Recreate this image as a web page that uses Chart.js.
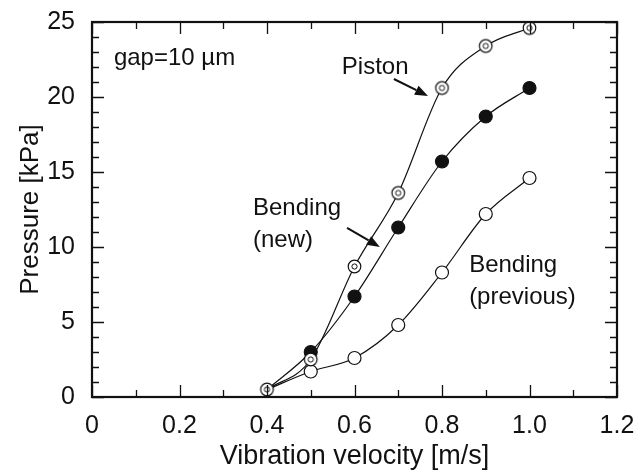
<!DOCTYPE html>
<html>
<head>
<meta charset="utf-8">
<script src="https://cdn.jsdelivr.net/npm/chart.js@4.4.1/dist/chart.umd.min.js"></script>
<style>
  body { margin: 0; background: #fff; }
  canvas { display: block; }
</style>
</head>
<body>
<canvas id="chart" width="636" height="473"></canvas>
<script>
// Data (gap = 10 um)
const velocity = [0.4, 0.5, 0.6, 0.7, 0.8, 0.9, 1.0];
const piston = [0.5, 2.5, 8.7, 13.6, 20.6, 23.4, 24.6];
const bendingNew = [0.5, 3.0, 6.7, 11.3, 15.7, 18.7, 20.6];
const bendingPrev = [0.5, 1.7, 2.6, 4.8, 8.3, 12.2, 14.6];
const xTicks = [0, 0.2, 0.4, 0.6, 0.8, 1.0, 1.2];
const yTicks = [0, 5, 10, 15, 20, 25];

const FONT = '"Liberation Sans", Arial, Helvetica, sans-serif';
const INK = '#111';

// double circle marker used for the piston series
const dblCircle = document.createElement('canvas');
dblCircle.width = 17; dblCircle.height = 17;
(() => {
  const c = dblCircle.getContext('2d');
  c.strokeStyle = INK;
  c.fillStyle = '#fff';
  c.lineWidth = 1.2;
  c.beginPath(); c.arc(8.5, 8.5, 6.3, 0, Math.PI * 2); c.fill(); c.stroke();
  c.lineWidth = 1;
  c.beginPath(); c.arc(8.5, 8.5, 2.6, 0, Math.PI * 2); c.stroke();
})();

const toPoints = ys => velocity.map((x, i) => ({ x, y: ys[i] }));
// the 0.4 marker is shared, only the piston series shows it
const hideFirst = ctx => (ctx.dataIndex === 0 ? 0 : 6.5);

// keep the plot box where the figure has it, whatever the label overhang
const fixBox = size => s => {
  if (s.isHorizontal()) s.height = size; else s.width = size;
  s.paddingTop = s.paddingBottom = s.paddingLeft = s.paddingRight = 0;
};

// annotations in data coordinates
const labels = [
  { text: ['gap=10 µm'], x: 0.05, y: 22.6 },
  { text: ['Piston'], x: 0.571, y: 22.0 },
  { text: ['Bending', '(new)'], x: 0.368, y: 12.6 },
  { text: ['Bending', '(previous)'], x: 0.862, y: 8.8 }
];
const arrows = [
  { from: [0.690, 21.2], to: [0.768, 20.07] },
  { from: [0.583, 11.27], to: [0.658, 10.0] }
];

const framePlugin = {
  id: 'frame',
  afterDatasetsDraw(chart) {
    const { ctx, chartArea: a, scales: { x, y } } = chart;
    ctx.save();
    ctx.strokeStyle = INK;
    // inward ticks, majors and minors, on all four sides
    ctx.lineWidth = 1.3;
    ctx.beginPath();
    for (let i = 0; i <= 12; i++) {
      const px = Math.round(x.getPixelForValue(i / 10)) + 0.5;
      const len = i % 2 === 0 ? 12 : 7;
      ctx.moveTo(px, a.bottom); ctx.lineTo(px, a.bottom - len);
      ctx.moveTo(px, a.top); ctx.lineTo(px, a.top + len);
    }
    for (let v = 0; v <= 25; v++) {
      const py = Math.round(y.getPixelForValue(v)) + 0.5;
      const len = v % 5 === 0 ? 12 : 7;
      ctx.moveTo(a.left, py); ctx.lineTo(a.left + len, py);
      ctx.moveTo(a.right, py); ctx.lineTo(a.right - len, py);
    }
    ctx.stroke();
    ctx.lineWidth = 2.2;
    ctx.strokeRect(a.left, a.top, a.right - a.left, a.bottom - a.top);

    // text labels
    ctx.fillStyle = INK;
    ctx.font = '24px ' + FONT;
    ctx.textBaseline = 'middle';
    ctx.textAlign = 'left';
    labels.forEach(l => {
      l.text.forEach((t, i) => {
        ctx.fillText(t, x.getPixelForValue(l.x), y.getPixelForValue(l.y) + i * 32);
      });
    });

    // arrows
    arrows.forEach(ar => {
      const x0 = x.getPixelForValue(ar.from[0]), y0 = y.getPixelForValue(ar.from[1]);
      const x1 = x.getPixelForValue(ar.to[0]), y1 = y.getPixelForValue(ar.to[1]);
      const ang = Math.atan2(y1 - y0, x1 - x0);
      const hl = 13, hw = 5;
      const bx = x1 - hl * Math.cos(ang), by = y1 - hl * Math.sin(ang);
      ctx.lineWidth = 2;
      ctx.beginPath(); ctx.moveTo(x0, y0); ctx.lineTo(bx, by); ctx.stroke();
      ctx.beginPath();
      ctx.moveTo(x1, y1);
      ctx.lineTo(bx + hw * Math.sin(ang), by - hw * Math.cos(ang));
      ctx.lineTo(bx - hw * Math.sin(ang), by + hw * Math.cos(ang));
      ctx.closePath();
      ctx.fill();
    });
    ctx.restore();
  }
};

const lineStyle = {
  borderColor: INK,
  borderWidth: 1.2,
  cubicInterpolationMode: 'monotone'
};

new Chart(document.getElementById('chart'), {
  type: 'line',
  data: {
    datasets: [
      Object.assign({
        label: 'Piston',
        data: toPoints(piston),
        pointStyle: dblCircle
      }, lineStyle),
      Object.assign({
        label: 'Bending (new)',
        data: toPoints(bendingNew),
        pointRadius: hideFirst,
        pointBackgroundColor: INK,
        pointBorderColor: INK
      }, lineStyle),
      Object.assign({
        label: 'Bending (previous)',
        data: toPoints(bendingPrev),
        pointRadius: hideFirst,
        pointBackgroundColor: '#fff',
        pointBorderColor: INK,
        pointBorderWidth: 1.2
      }, lineStyle)
    ]
  },
  options: {
    responsive: false,
    animation: false,
    layout: { padding: { top: 22, right: 19, left: 0, bottom: 0 } },
    plugins: { legend: { display: false }, tooltip: { enabled: false } },
    scales: {
      x: {
        type: 'linear',
        min: 0,
        max: 1.2,
        grid: { display: false, drawTicks: false },
        border: { display: false },
        afterFit: fixBox(76),
        afterBuildTicks: s => { s.ticks = xTicks.map(value => ({ value })); },
        ticks: {
          color: INK,
          font: { family: FONT, size: 25 },
          padding: 14,
          callback: v => (v === 0 ? '0' : v.toFixed(1))
        },
        title: {
          display: true,
          text: 'Vibration velocity [m/s]',
          color: INK,
          font: { family: FONT, size: 27 },
          padding: { top: 0, bottom: 0 }
        }
      },
      y: {
        min: 0,
        max: 25,
        grid: { display: false, drawTicks: false },
        border: { display: false },
        afterFit: fixBox(92),
        afterBuildTicks: s => { s.ticks = yTicks.map(value => ({ value })); },
        ticks: {
          color: INK,
          font: { family: FONT, size: 25 },
          padding: 17
        },
        title: {
          display: true,
          text: 'Pressure [kPa]',
          color: INK,
          font: { family: FONT, size: 26 },
          padding: { top: 15, bottom: 0 }
        }
      }
    }
  },
  plugins: [framePlugin]
});
</script>
</body>
</html>
